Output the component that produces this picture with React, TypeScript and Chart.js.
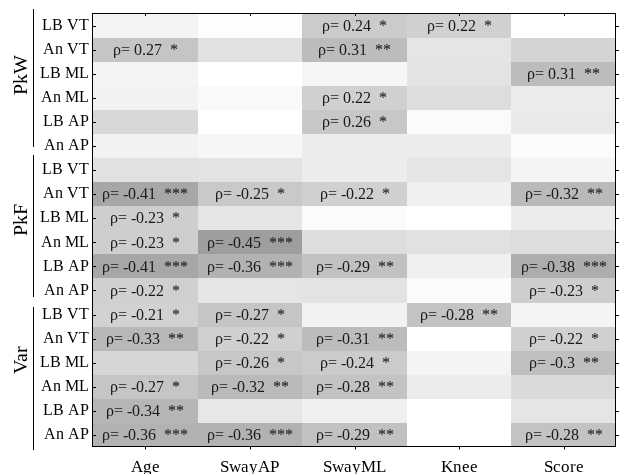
import React, { useEffect, useRef } from "react";
import { Chart, registerables } from "chart.js";
Chart.register(...registerables);

// ---------------- data ----------------
const columns = ["Age", "SwayAP", "SwayML", "Knee", "Score"];
const rowNames = ["LB VT", "An VT", "LB ML", "An ML", "LB AP", "An AP"];
const groups = ["PkW", "PkF", "Var"];

// Spearman rho (unlabelled cells estimated from their shade)
const pkwRho = [
  [0.05, 0.01, 0.24, 0.22, 0.0],
  [0.27, 0.14, 0.31, 0.12, 0.2],
  [0.05, 0.0, 0.04, 0.13, 0.31],
  [0.06, 0.03, 0.22, 0.16, 0.09],
  [0.18, 0.0, 0.26, 0.02, 0.1],
  [0.06, 0.04, 0.09, 0.09, 0.02],
];
const pkwStars = [
  ["", "", "*", "*", ""],
  ["*", "", "**", "", ""],
  ["", "", "", "", "**"],
  ["", "", "*", "", ""],
  ["", "", "*", "", ""],
  ["", "", "", "", ""],
];
const pkfRho = [
  [-0.14, -0.13, -0.09, -0.12, -0.05],
  [-0.41, -0.25, -0.22, -0.07, -0.32],
  [-0.23, -0.12, -0.02, 0.0, -0.09],
  [-0.23, -0.45, -0.16, -0.14, -0.16],
  [-0.41, -0.36, -0.29, -0.07, -0.38],
  [-0.22, -0.12, -0.13, -0.02, -0.23],
];
const pkfStars = [
  ["", "", "", "", ""],
  ["***", "*", "*", "", "**"],
  ["*", "", "", "", ""],
  ["*", "***", "", "", ""],
  ["***", "***", "**", "", "***"],
  ["*", "", "", "", "*"],
];
const varRho = [
  [-0.21, -0.27, -0.06, -0.28, -0.05],
  [-0.33, -0.22, -0.31, 0.0, -0.22],
  [-0.19, -0.26, -0.24, -0.05, -0.3],
  [-0.27, -0.32, -0.28, -0.09, -0.17],
  [-0.34, -0.11, -0.07, 0.0, -0.12],
  [-0.36, -0.36, -0.29, 0.0, -0.28],
];
const varStars = [
  ["*", "*", "", "**", ""],
  ["**", "*", "**", "", "*"],
  ["", "*", "*", "", "**"],
  ["*", "**", "**", "", ""],
  ["**", "", "", "", ""],
  ["***", "***", "**", "", "**"],
];

// ---------------- styling ----------------
const FONT = "RefSerif, 'Liberation Serif', 'Times New Roman', 'DejaVu Serif', serif";
const W = 619;
const H = 474;
const groupLabelX = 21.5;
const groupLabelOffset = [11, 10, 15];
const groupLineX = 33.5;
const groupLines = [
  [9, 147],
  [155, 297],
  [307, 450],
];

function shade(v: number) {
  const g = Math.round(255 - 215 * Math.abs(v));
  return `rgb(${g},${g},${g})`;
}

export default function App() {
  const ref = useRef<HTMLCanvasElement>(null);

  useEffect(() => {
    document.body.style.margin = "0";
    const style = document.createElement("style");
    style.textContent =
      "@font-face{font-family:'RefSerif';src:local('Liberation Serif'),local('LiberationSerif'),local('LiberationSerif-Regular');}";
    document.head.appendChild(style);

    const rowLabels = groups.flatMap(() => rowNames);
    const rho = [...pkwRho, ...pkfRho, ...varRho];
    const stars = [...pkwStars, ...pkfStars, ...varStars];

    const heatPlugin = {
      id: "heat",
      beforeDatasetsDraw(chart: any) {
        const { ctx, chartArea: a } = chart;
        const x = chart.scales.x;
        const y = chart.scales.y;
        const cw = (a.right - a.left) / columns.length;
        const rh = (a.bottom - a.top) / rowLabels.length;
        ctx.save();
        rho.forEach((row: number[], r: number) =>
          row.forEach((v: number, c: number) => {
            const cx = x.getPixelForValue(c);
            const cy = y.getPixelForValue(r);
            const x0 = Math.round(cx - cw / 2);
            const x1 = Math.round(cx + cw / 2);
            const y0 = Math.round(cy - rh / 2);
            const y1 = Math.round(cy + rh / 2);
            ctx.fillStyle = shade(v);
            ctx.fillRect(x0, y0, x1 - x0, y1 - y0);
          })
        );
        ctx.font = `16px ${FONT}`;
        ctx.fillStyle = "#1a1a1a";
        ctx.textAlign = "center";
        ctx.textBaseline = "middle";
        rho.forEach((row: number[], r: number) =>
          row.forEach((v: number, c: number) => {
            const s = stars[r][c];
            if (!s) return;
            const cx = x.getPixelForValue(c);
            const cy = y.getPixelForValue(r);
            ctx.fillText(`\u03c1= ${String(v)}  ${s}`, cx, cy + 1);
          })
        );
        ctx.strokeStyle = "#000";
        ctx.lineWidth = 1;
        const L = Math.round(a.left) - 0.5;
        const R = Math.round(a.right) - 0.5;
        const T = Math.round(a.top) - 0.5;
        const B = Math.round(a.bottom) - 0.5;
        ctx.strokeRect(L, T, R - L, B - T);
        ctx.beginPath();
        rowLabels.forEach((_: string, r: number) => {
          const py = Math.round(y.getPixelForValue(r)) + 0.5;
          ctx.moveTo(L, py);
          ctx.lineTo(L + 3.5, py);
          ctx.moveTo(R, py);
          ctx.lineTo(R + 4, py);
        });
        columns.forEach((_: string, c: number) => {
          const px = Math.round(x.getPixelForValue(c)) + 0.5;
          ctx.moveTo(px, T);
          ctx.lineTo(px, T + 2.5);
          ctx.moveTo(px, B);
          ctx.lineTo(px, B + 3);
        });
        ctx.stroke();
        ctx.beginPath();
        groupLines.forEach(([s, e]) => {
          ctx.moveTo(groupLineX, s);
          ctx.lineTo(groupLineX, e);
        });
        ctx.stroke();
        ctx.font = `20px ${FONT}`;
        ctx.fillStyle = "#000";
        groups.forEach((g: string, gi: number) => {
          const top = y.getPixelForValue(gi * 6);
          const bot = y.getPixelForValue(gi * 6 + 5);
          const cy = (top + bot) / 2 - groupLabelOffset[gi];
          ctx.save();
          ctx.translate(groupLabelX, cy);
          ctx.rotate(-Math.PI / 2);
          ctx.textAlign = "center";
          ctx.textBaseline = "middle";
          ctx.fillText(g, 0, 0);
          ctx.restore();
        });
        ctx.restore();
      },
    };

    let chart: any = null;
    let cancelled = false;
    const build = () => {
      if (cancelled || !ref.current) return;
      chart = new Chart(ref.current as HTMLCanvasElement, {
        type: "bar",
        data: { labels: columns, datasets: [] },
        options: {
          responsive: false,
          animation: false,
          layout: { padding: { top: 10, right: 3, left: 0, bottom: 0 } },
          plugins: { legend: { display: false }, tooltip: { enabled: false } },
          scales: {
            x: {
              type: "category",
              labels: columns,
              offset: true,
              grid: { display: false, drawTicks: false },
              border: { display: false },
              ticks: {
                color: "#000",
                font: { family: FONT, size: 17 },
                padding: 10,
                maxRotation: 0,
                autoSkip: false,
              },
              afterFit(s: any) {
                s.height = 27;
              },
            },
            y: {
              type: "category",
              labels: rowLabels,
              offset: true,
              grid: { display: false, drawTicks: false },
              border: { display: false },
              ticks: {
                color: "#000",
                font: { family: FONT, size: 16 },
                padding: 4,
                autoSkip: false,
              },
              afterFit(s: any) {
                s.width = 93;
              },
            },
          },
        },
        plugins: [heatPlugin],
      } as any);
    };

    const fonts: any = (document as any).fonts;
    if (fonts && fonts.load) {
      Promise.all([fonts.load("16px RefSerif"), fonts.load("20px RefSerif")])
        .catch(() => null)
        .then(build);
    } else {
      build();
    }

    return () => {
      cancelled = true;
      if (chart) chart.destroy();
      style.remove();
    };
  }, []);

  return (
    <div style={{ position: "fixed", left: 0, top: 0, width: W, height: H, background: "#fff" }}>
      <canvas ref={ref} width={W} height={H} />
    </div>
  );
}
